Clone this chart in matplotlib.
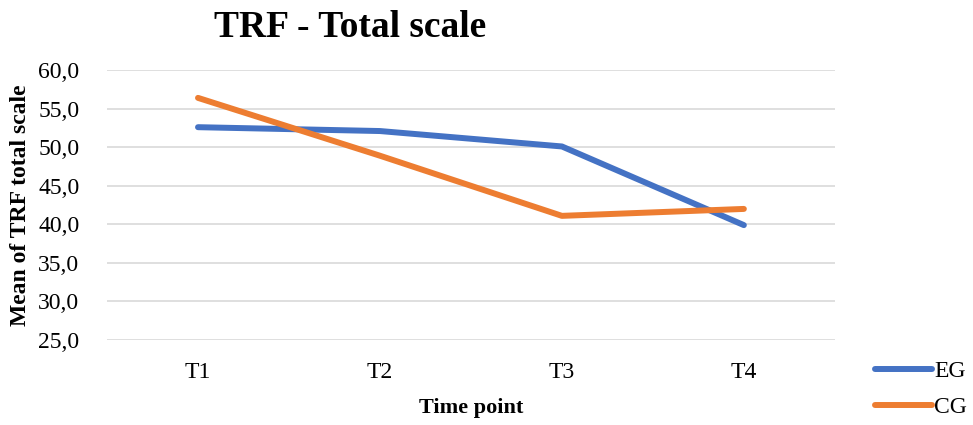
import matplotlib.pyplot as plt
from matplotlib.ticker import FuncFormatter, MultipleLocator
from matplotlib.lines import Line2D

plt.rcParams['font.family'] = ['Liberation Serif', 'DejaVu Serif']

time_points = ["T1", "T2", "T3", "T4"]
eg_values = [52.6, 52.1, 50.1, 39.9]
cg_values = [56.4, 48.9, 41.1, 42.0]

blue = "#4472C4"
orange = "#ED7D31"
lw = 4.3

fig = plt.figure(figsize=(9.73, 4.25), dpi=100)
ax = fig.add_axes([0.110, 0.200, 0.748, 0.635])

x = range(len(time_points))
ax.plot(x, eg_values, color=blue, lw=lw, solid_capstyle="round", solid_joinstyle="round", zorder=3)
ax.plot(x, cg_values, color=orange, lw=lw, solid_capstyle="round", solid_joinstyle="round", zorder=3)

ax.set_xlim(-0.5, 3.5)
ax.set_ylim(25, 60)
ax.yaxis.set_major_locator(MultipleLocator(5))
ax.yaxis.set_major_formatter(FuncFormatter(lambda v, _: f"{v:.1f}".replace(".", ",")))
ax.set_xticks(list(x))
ax.set_xticklabels(time_points)
ax.grid(axis="y", color="#d9d9d9", lw=1.2, zorder=0)
for s in ax.spines.values():
    s.set_visible(False)
ax.tick_params(axis="both", length=0, labelsize=17, colors="black")
ax.tick_params(axis="x", pad=16)
ax.tick_params(axis="y", pad=20)

ax.set_xlabel("Time point", fontsize=16, fontweight="bold", labelpad=11)
ax.set_ylabel("Mean of TRF total scale", fontsize=17, fontweight="bold", labelpad=5)
fig.text(0.36, 0.935, "TRF - Total scale", fontsize=27, fontweight="bold", ha="center", va="center")

handles = [Line2D([], [], color=blue, lw=lw, solid_capstyle="round"),
           Line2D([], [], color=orange, lw=lw, solid_capstyle="round")]
fig.legend(handles, ["EG", "CG"], loc="lower right", bbox_to_anchor=(1.016, -0.034),
           frameon=False, fontsize=17, handlelength=2.4, handletextpad=0.1,
           labelspacing=0.62)

fig.savefig("out.png", dpi=100)
